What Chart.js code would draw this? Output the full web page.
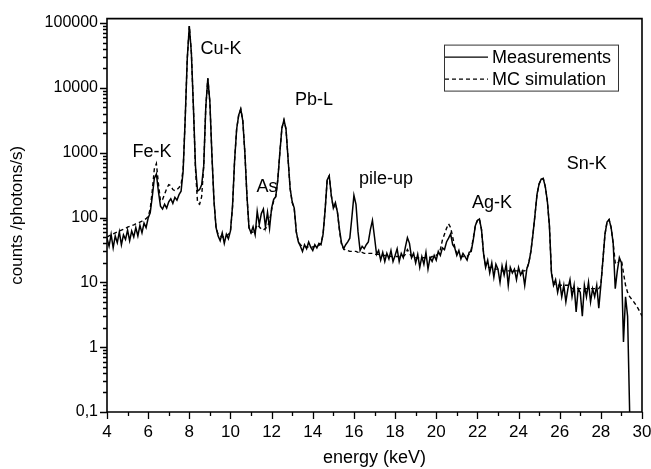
<!DOCTYPE html>
<html><head><meta charset="utf-8">
<script src="https://cdn.jsdelivr.net/npm/chart.js@4.4.1/dist/chart.umd.min.js"></script>
<style>html,body{margin:0;padding:0;background:#fff;}canvas{display:block;}</style>
</head><body>
<canvas id="c" width="651" height="469"></canvas>
<script>
// energy grid: 4.0 ... 30.0 keV, step 0.1 keV
const energyStart = 4.0;
const energyStep = 0.1;

// counts (photons/s), one row per keV (x.0 ... x.9)
const measured = [
  48, 36, 55, 34, 52, 41, 60, 38, 54, 46,
  64, 44, 62, 50, 70, 52, 76, 58, 82, 70,
  98, 118, 210, 400, 470, 250, 150, 135, 160, 140,
  175, 195, 165, 205, 185, 225, 255, 520, 3300, 28000,
  90000, 35000, 5000, 620, 255, 270, 320, 620, 5000, 14000,
  6000, 900, 180, 70, 52, 44, 58, 40, 55, 47,
  62, 150, 750, 2300, 3800, 4700, 3100, 1000, 220, 70,
  58, 72, 54, 125, 78, 115, 135, 72, 120, 68,
  140, 190, 210, 380, 1000, 2400, 3200, 2300, 800, 280,
  175, 140, 60, 42, 36, 30, 38, 33, 42, 35,
  31, 38, 34, 40, 38, 55, 130, 380, 440, 220,
  140, 170, 120, 65, 40, 33, 38, 42, 48, 100,
  220, 160, 60, 31, 36, 33, 38, 42, 65, 90,
  50, 27, 31, 22, 29, 21, 28, 23, 31, 21,
  26, 33, 21, 28, 24, 35, 49, 40, 24, 28,
  20, 27, 17, 25, 19, 29, 16, 24, 21, 26,
  22, 30, 26, 34, 32, 42, 48, 56, 38, 34,
  26, 31, 23, 28, 25, 22, 29, 30, 45, 75,
  90, 95, 65, 28, 17, 22, 14, 20, 12, 19,
  16, 10, 18, 13, 19, 9, 17, 14, 16, 11,
  17, 13, 15, 9, 16, 20, 30, 55, 110, 230,
  330, 390, 400, 300, 180, 75, 14, 9, 11, 7,
  10, 6, 9, 5, 8, 11, 6, 9, 3.5, 8,
  7, 3, 9, 6, 10, 5, 8, 6, 9, 4,
  9, 22, 55, 85, 93, 70, 40, 8, 15, 24,
  20, 1.2, 6, 3, 0.1, null, null, null, null, null,
  null
];

const simulation = [
  50, 52, 54, 56, 58, 60, 62, 64, 66, 68,
  71, 73, 75, 77, 80, 82, 85, 88, 92, 96,
  104, 135, 260, 560, 680, 330, 180, 190, 230, 280,
  320, 310, 270, 260, 270, 290, 320, 560, 3300, 28000,
  90000, 35000, 5000, 560, 170, 160, 210, 620, 5000, 14000,
  6000, 900, 180, 70, 55, 52, 50, 50, 52, 55,
  60, 145, 750, 2300, 3800, 4700, 3100, 1000, 220, 70,
  58, 60, 64, 78, 72, 66, 64, 68, 72, 90,
  130, 180, 210, 380, 1000, 2400, 3200, 2300, 800, 280,
  170, 135, 60, 42, 38, 36, 36, 35, 35, 35,
  35, 36, 36, 37, 40, 55, 130, 380, 440, 220,
  140, 165, 120, 62, 38, 33, 31, 31, 30, 30,
  30, 30, 29, 29, 29, 28, 28, 28, 28, 28,
  27, 27, 27, 26, 26, 26, 26, 26, 25, 25,
  25, 25, 25, 25, 25, 27, 32, 28, 25, 24,
  24, 24, 24, 24, 24, 24, 24, 24, 25, 25,
  26, 28, 32, 45, 55, 68, 80, 70, 50, 35,
  28, 26, 25, 25, 25, 25, 27, 32, 48, 75,
  90, 95, 65, 28, 18, 17, 17, 17, 16, 16,
  16, 16, 15, 15, 15, 15, 15, 15, 15, 15,
  15, 15, 15, 15, 16, 20, 30, 55, 110, 230,
  330, 390, 400, 300, 180, 75, 14, 10, 9, 9,
  9, 9, 9, 9, 9, 9, 8, 8, 8, 8,
  8, 8, 8, 8, 8, 8, 8, 8, 8, 8,
  9, 22, 55, 85, 93, 70, 40, 20, 19, 22,
  22, 14, 9, 7, 6, 5.5, 5, 4.5, 4, 3.5,
  3
];

const seriesNames = ['Measurements', 'MC simulation'];
const xTickValues = [4, 6, 8, 10, 12, 14, 16, 18, 20, 22, 24, 26, 28, 30];
const yTickValues = [0.1, 1, 10, 100, 1000, 10000, 100000];
const yTickLabels = ['0,1', '1', '10', '100', '1000', '10000', '100000'];

// peak annotations: text, energy (keV), counts (anchor in data units)
const peakNames  = ['Fe-K', 'Cu-K', 'As', 'Pb-L', 'pile-up', 'Ag-K', 'Sn-K'];
const peakEnergy = [6.19, 9.54, 11.77, 14.06, 17.56, 22.71, 27.32];
const peakCounts = [1035, 40000, 292, 6480, 387, 166, 680];

const toPoints = arr => arr.map((v, i) => ({ x: +(energyStart + i * energyStep).toFixed(2), y: v }));

const FONT = "'Liberation Sans', Arial, Helvetica, sans-serif";
Chart.defaults.font.family = FONT;
Chart.defaults.color = '#000';

const decoPlugin = {
  id: 'deco',
  afterDraw(chart) {
    const { ctx, chartArea: a } = chart;
    const x = chart.scales.x, y = chart.scales.y;
    ctx.save();
    ctx.setLineDash([]);
    ctx.strokeStyle = '#000';
    // frame
    ctx.lineWidth = 1.6;
    ctx.beginPath();
    ctx.rect(a.left, a.top, a.right - a.left, a.bottom - a.top);
    ctx.stroke();
    // x ticks (outward)
    ctx.lineWidth = 1.3;
    ctx.beginPath();
    for (let e = 4; e <= 30; e += 1) {
      const px = Math.round(x.getPixelForValue(e)) + 0.5;
      const len = (e % 2 === 0) ? 7 : 4;
      ctx.moveTo(px, a.bottom);
      ctx.lineTo(px, a.bottom + len);
    }
    // y ticks (outward), decades + minor 2..9
    for (let d = -1; d <= 5; d++) {
      for (let m = 1; m <= 9; m++) {
        const v = m * Math.pow(10, d);
        if (v > y.max) break;
        const py = Math.round(y.getPixelForValue(v)) + 0.5;
        const len = (m === 1) ? 7 : 4;
        ctx.moveTo(a.left, py);
        ctx.lineTo(a.left - len, py);
      }
    }
    ctx.stroke();

    // peak annotations
    ctx.fillStyle = '#000';
    ctx.font = '18px ' + FONT;
    ctx.textAlign = 'center';
    ctx.textBaseline = 'middle';
    peakNames.forEach((t, i) => {
      ctx.fillText(t, x.getPixelForValue(peakEnergy[i]), y.getPixelForValue(peakCounts[i]));
    });

    // legend box inside plot
    const bx = a.right - 198, by = a.top + 26, bw = 174, bh = 46;
    ctx.lineWidth = 1;
    ctx.strokeStyle = '#333';
    ctx.strokeRect(bx + 0.5, by + 0.5, bw, bh);
    ctx.font = '18px ' + FONT;
    ctx.textAlign = 'left';
    chart.data.datasets.forEach((ds, i) => {
      const ly = by + 12 + i * 22;
      ctx.beginPath();
      ctx.strokeStyle = '#000';
      ctx.lineWidth = 1.4;
      ctx.setLineDash(ds.borderDash || []);
      ctx.moveTo(bx + 1, ly + 0.5);
      ctx.lineTo(bx + 44, ly + 0.5);
      ctx.stroke();
      ctx.setLineDash([]);
      ctx.fillText(ds.label, bx + 48, ly + 1);
    });
    ctx.restore();
  }
};

new Chart(document.getElementById('c'), {
  type: 'line',
  data: {
    datasets: [
      { label: seriesNames[0], data: toPoints(measured), borderColor: '#000', borderWidth: 1.5,
        pointRadius: 0, tension: 0, spanGaps: false, fill: false },
      { label: seriesNames[1], data: toPoints(simulation), borderColor: '#000', borderWidth: 1.4,
        borderDash: [4, 3], pointRadius: 0, tension: 0, fill: false }
    ]
  },
  options: {
    responsive: false,
    animation: false,
    devicePixelRatio: 1,
    layout: { padding: { left: 0, right: 0, top: 15, bottom: 0 } },
    plugins: { legend: { display: false }, tooltip: { enabled: false } },
    scales: {
      x: {
        type: 'linear', min: 4, max: 30,
        grid: { display: false, drawTicks: false },
        border: { display: false },
        afterBuildTicks: s => { s.ticks = xTickValues.map(v => ({ value: v })); },
        afterFit: s => { s.height = 57; s.paddingRight = 9; s.paddingLeft = 0; },
        ticks: { padding: 10, font: { size: 17 }, color: '#000', maxRotation: 0 },
        title: { display: true, text: 'energy (keV)', font: { size: 18 }, padding: { top: 0, bottom: 0 }, color: '#000' }
      },
      y: {
        type: 'logarithmic', min: 0.1, max: 117000,
        grid: { display: false, drawTicks: false },
        border: { display: false },
        afterBuildTicks: s => { s.ticks = yTickValues.map(v => ({ value: v })); },
        afterFit: s => { s.width = 107; },
        ticks: { padding: 9, font: { size: 16 }, color: '#000', callback: (v, i) => yTickLabels[i] },
        title: { display: true, text: 'counts /photons/s)', font: { size: 17 }, padding: { top: 7, bottom: 0 }, color: '#000' }
      }
    }
  },
  plugins: [decoPlugin]
});
</script>
</body></html>
